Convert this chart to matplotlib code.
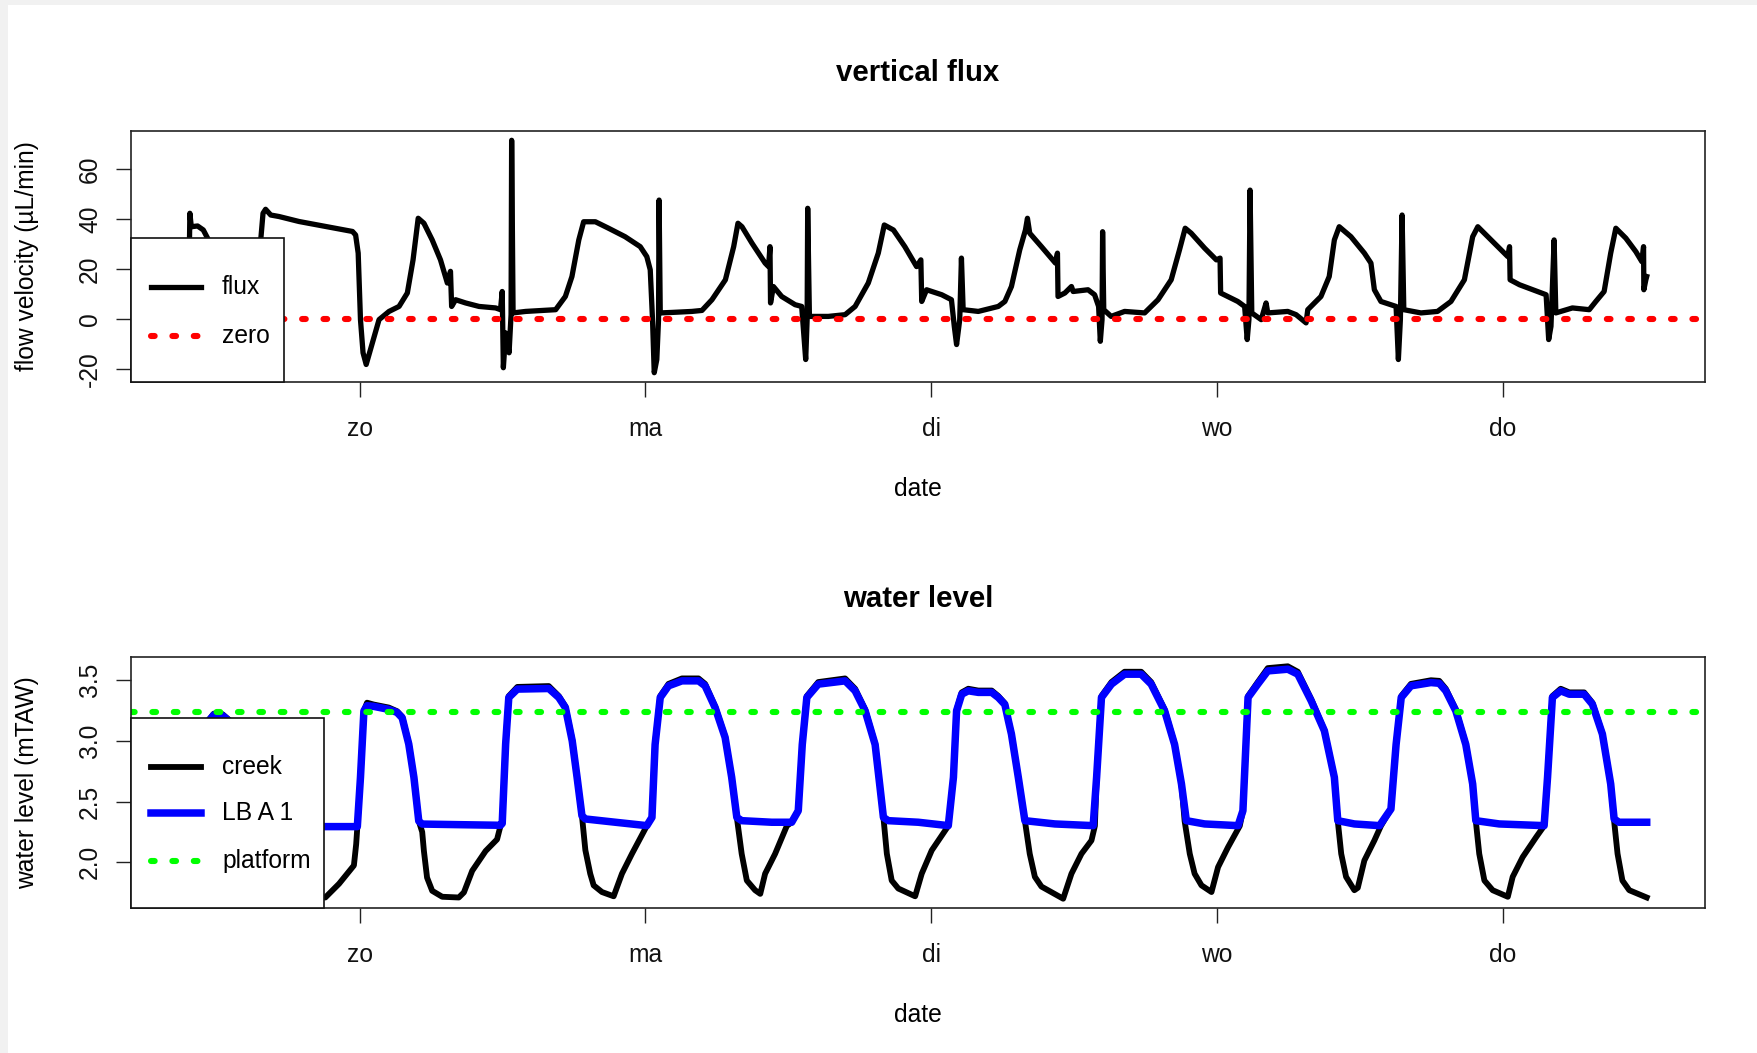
import numpy as np
import matplotlib.pyplot as plt
from matplotlib.patches import Rectangle

plt.rcParams['font.family'] = ['Liberation Sans', 'DejaVu Sans']
plt.rcParams['axes.unicode_minus'] = False

# time in days after midnight of "zo"
flux_points = [
    (-0.596, 26.0), (-0.594, 42.4), (-0.589, 37.0), (-0.567, 37.3), (-0.547, 35.7),
    (-0.532, 32.4), (-0.492, 13.0), (-0.434, 10.4), (-0.375, 15.7), (-0.346, 31.7),
    (-0.338, 42.4), (-0.329, 44.0), (-0.311, 41.7), (-0.282, 41.1), (-0.212, 39.1),
    (-0.119, 37.1), (-0.025, 35.1), (-0.014, 33.7), (-0.005, 26.4), (0.003, -0.3),
    (0.012, -13.6), (0.023, -18.3), (0.038, -12.3), (0.068, -0.3), (0.103, 3.0),
    (0.138, 5.0), (0.167, 10.4), (0.187, 23.7), (0.205, 40.4), (0.225, 38.4),
    (0.254, 31.7), (0.283, 23.7), (0.307, 14.4), (0.318, 19.1), (0.322, 5.0),
    (0.336, 7.7), (0.371, 6.4), (0.418, 5.0), (0.476, 4.4), (0.493, 3.7),
    (0.499, 11.0), (0.503, -19.6), (0.511, -5.6), (0.523, -13.6), (0.530, 1.7),
    (0.532, 71.7), (0.537, 2.4), (0.581, 3.0), (0.639, 3.4), (0.686, 3.7),
    (0.720, 9.0), (0.743, 17.0), (0.767, 31.7), (0.784, 39.0), (0.825, 39.0),
    (0.871, 36.4), (0.929, 33.0), (0.982, 29.0), (1.005, 25.0), (1.017, 19.7),
    (1.025, -0.3), (1.031, -21.6), (1.040, -16.3), (1.046, -0.3), (1.048, 47.7),
    (1.052, 2.4), (1.093, 2.6), (1.163, 3.0), (1.198, 3.4), (1.233, 7.7),
    (1.280, 15.7), (1.309, 29.0), (1.324, 38.4), (1.338, 37.0), (1.373, 30.4),
    (1.419, 22.4), (1.431, 21.0), (1.436, 29.0), (1.438, 6.4), (1.448, 13.0),
    (1.477, 9.0), (1.524, 5.7), (1.547, 5.0), (1.554, -5.6), (1.561, -16.3),
    (1.566, -0.3), (1.568, 44.4), (1.574, 1.0), (1.640, 1.0), (1.699, 1.7),
    (1.734, 5.0), (1.780, 14.4), (1.815, 26.4), (1.836, 37.7), (1.868, 35.7),
    (1.908, 29.0), (1.949, 21.0), (1.964, 23.7), (1.967, 7.0), (1.984, 11.7),
    (2.037, 9.7), (2.071, 7.7), (2.081, -3.0), (2.089, -10.3), (2.100, -0.3),
    (2.106, 24.4), (2.112, 3.7), (2.165, 3.0), (2.235, 5.0), (2.258, 7.0),
    (2.281, 13.0), (2.310, 27.7), (2.330, 35.7), (2.337, 40.4), (2.345, 34.4),
    (2.386, 29.0), (2.435, 22.4), (2.442, 26.4), (2.444, 9.0), (2.468, 10.4),
    (2.491, 13.0), (2.497, 11.0), (2.549, 11.7), (2.572, 9.7), (2.586, 5.0),
    (2.592, -9.0), (2.598, -0.3), (2.600, 35.0), (2.604, 3.7), (2.630, 1.0),
    (2.677, 3.0), (2.747, 2.4), (2.794, 7.7), (2.840, 15.7), (2.869, 27.7),
    (2.889, 36.4), (2.910, 34.4), (2.957, 28.4), (2.998, 23.7), (3.011, 24.4),
    (3.013, 10.4), (3.073, 7.0), (3.097, 5.0), (3.106, -8.3), (3.112, -0.3),
    (3.116, 51.7), (3.122, 2.4), (3.155, -0.3), (3.172, 6.4), (3.178, 2.4),
    (3.248, 3.0), (3.277, 1.7), (3.312, -1.6), (3.318, 3.7), (3.364, 9.0),
    (3.393, 17.0), (3.411, 31.7), (3.428, 37.0), (3.469, 33.0), (3.516, 26.4),
    (3.539, 22.4), (3.551, 11.7), (3.574, 7.0), (3.627, 5.0), (3.635, -16.3),
    (3.642, -0.3), (3.648, 41.7), (3.654, 3.7), (3.714, 2.4), (3.772, 3.0),
    (3.819, 7.0), (3.866, 15.7), (3.895, 33.0), (3.913, 37.0), (3.942, 33.7),
    (3.989, 28.4), (4.018, 25.0), (4.024, 29.0), (4.026, 15.7), (4.059, 13.7),
    (4.105, 11.7), (4.152, 9.7), (4.161, -8.3), (4.169, -3.0), (4.180, 31.7),
    (4.186, 2.4), (4.244, 4.4), (4.303, 3.7), (4.326, 7.0), (4.355, 11.0),
    (4.378, 26.4), (4.396, 36.4), (4.431, 32.4), (4.466, 27.0), (4.487, 23.0),
    (4.493, 29.0), (4.494, 11.7), (4.501, 15.7), (4.504, 17.0),
]

creek_points = [
    (-0.596, 2.60), (-0.55, 3.11), (-0.51, 3.225), (-0.48, 3.22), (-0.45, 3.16),
    (-0.38, 2.60), (-0.33, 2.20), (-0.28, 1.85), (-0.20, 1.72), (-0.12, 1.71),
    (-0.072, 1.823), (-0.020, 1.974), (-0.012, 2.15), (-0.008, 2.29), (0.003, 2.70),
    (0.015, 3.25), (0.026, 3.315), (0.049, 3.30), (0.102, 3.275), (0.131, 3.245),
    (0.149, 3.20), (0.172, 2.98), (0.190, 2.70), (0.207, 2.34), (0.219, 2.25),
    (0.225, 2.093), (0.236, 1.874), (0.254, 1.765), (0.289, 1.716), (0.347, 1.71),
    (0.365, 1.752), (0.394, 1.93), (0.441, 2.093), (0.481, 2.189), (0.493, 2.30),
    (0.499, 2.32), (0.511, 2.98), (0.522, 3.37), (0.552, 3.445), (0.662, 3.452),
    (0.697, 3.37), (0.720, 3.285), (0.744, 3.01), (0.761, 2.70), (0.778, 2.384),
    (0.790, 2.10), (0.807, 1.906), (0.819, 1.81), (0.848, 1.755), (0.889, 1.72),
    (0.918, 1.906), (0.953, 2.07), (1.005, 2.30), (1.023, 2.37), (1.034, 2.98),
    (1.052, 3.37), (1.081, 3.47), (1.128, 3.515), (1.186, 3.515), (1.209, 3.47),
    (1.244, 3.285), (1.279, 3.035), (1.302, 2.70), (1.320, 2.37), (1.337, 2.07),
    (1.355, 1.85), (1.384, 1.77), (1.402, 1.74), (1.419, 1.906), (1.454, 2.07),
    (1.495, 2.30), (1.512, 2.33), (1.535, 2.425), (1.549, 2.97), (1.565, 3.37),
    (1.605, 3.485), (1.699, 3.515), (1.734, 3.43), (1.769, 3.26), (1.804, 2.975),
    (1.821, 2.62), (1.833, 2.37), (1.845, 2.07), (1.862, 1.85), (1.885, 1.784),
    (1.944, 1.72), (1.967, 1.906), (2.002, 2.098), (2.060, 2.30), (2.078, 2.70),
    (2.089, 3.255), (2.107, 3.40), (2.130, 3.43), (2.165, 3.415), (2.212, 3.415),
    (2.235, 3.37), (2.258, 3.31), (2.270, 3.175), (2.281, 3.06), (2.305, 2.70),
    (2.328, 2.343), (2.345, 2.07), (2.363, 1.88), (2.386, 1.80), (2.462, 1.70),
    (2.491, 1.906), (2.526, 2.07), (2.561, 2.18), (2.573, 2.30), (2.579, 2.70),
    (2.596, 3.37), (2.631, 3.485), (2.677, 3.57), (2.735, 3.57), (2.770, 3.485),
    (2.817, 3.26), (2.852, 2.975), (2.876, 2.645), (2.887, 2.34), (2.905, 2.07),
    (2.922, 1.906), (2.946, 1.81), (2.981, 1.755), (3.004, 1.96), (3.039, 2.125),
    (3.080, 2.30), (3.091, 2.425), (3.109, 3.37), (3.143, 3.485), (3.178, 3.60),
    (3.248, 3.615), (3.283, 3.57), (3.330, 3.345), (3.376, 3.09), (3.411, 2.70),
    (3.423, 2.34), (3.435, 2.07), (3.452, 1.88), (3.481, 1.77), (3.493, 1.79),
    (3.516, 2.015), (3.551, 2.18), (3.574, 2.30), (3.609, 2.44), (3.627, 2.975),
    (3.645, 3.37), (3.679, 3.47), (3.749, 3.50), (3.778, 3.495), (3.801, 3.43),
    (3.836, 3.26), (3.871, 2.975), (3.895, 2.645), (3.906, 2.34), (3.918, 2.07),
    (3.936, 1.85), (3.965, 1.77), (4.018, 1.716), (4.035, 1.88), (4.070, 2.043),
    (4.117, 2.207), (4.145, 2.30), (4.157, 2.70), (4.174, 3.37), (4.203, 3.43),
    (4.233, 3.40), (4.285, 3.40), (4.314, 3.315), (4.349, 3.06), (4.378, 2.645),
    (4.390, 2.34), (4.402, 2.07), (4.419, 1.85), (4.443, 1.77), (4.504, 1.71),
]

lba1_points = [
    (-0.596, 2.60), (-0.55, 3.10), (-0.51, 3.215), (-0.48, 3.21), (-0.45, 3.15),
    (-0.38, 2.60), (-0.33, 2.31), (-0.25, 2.296), (-0.12, 2.294), (-0.008, 2.294),
    (0.003, 2.70), (0.015, 3.247), (0.026, 3.29), (0.049, 3.285), (0.102, 3.26),
    (0.131, 3.235), (0.149, 3.19), (0.172, 2.974), (0.190, 2.70), (0.207, 2.34),
    (0.219, 2.315), (0.35, 2.31), (0.493, 2.305), (0.499, 2.32), (0.511, 2.974),
    (0.522, 3.358), (0.552, 3.427), (0.662, 3.432), (0.697, 3.358), (0.720, 3.275),
    (0.744, 3.0), (0.761, 2.70), (0.778, 2.384), (0.790, 2.357), (0.895, 2.33),
    (1.005, 2.302), (1.023, 2.37), (1.034, 2.97), (1.052, 3.358), (1.081, 3.454),
    (1.128, 3.495), (1.186, 3.495), (1.209, 3.454), (1.244, 3.275), (1.279, 3.029),
    (1.302, 2.70), (1.320, 2.37), (1.337, 2.343), (1.442, 2.33), (1.512, 2.33),
    (1.535, 2.425), (1.549, 2.97), (1.565, 3.358), (1.605, 3.468), (1.699, 3.495),
    (1.734, 3.413), (1.769, 3.248), (1.804, 2.97), (1.821, 2.62), (1.833, 2.37),
    (1.850, 2.343), (1.955, 2.33), (2.060, 2.302), (2.078, 2.70), (2.089, 3.248),
    (2.107, 3.385), (2.130, 3.413), (2.165, 3.40), (2.212, 3.40), (2.235, 3.358),
    (2.258, 3.30), (2.270, 3.17), (2.281, 3.056), (2.305, 2.70), (2.328, 2.343),
    (2.433, 2.316), (2.567, 2.302), (2.579, 2.70), (2.596, 3.358), (2.631, 3.468),
    (2.677, 3.55), (2.735, 3.55), (2.770, 3.468), (2.817, 3.248), (2.852, 2.97),
    (2.876, 2.645), (2.893, 2.343), (2.957, 2.316), (3.074, 2.302), (3.091, 2.425),
    (3.109, 3.358), (3.143, 3.468), (3.178, 3.577), (3.248, 3.591), (3.283, 3.55),
    (3.330, 3.33), (3.376, 3.084), (3.411, 2.70), (3.423, 2.343), (3.481, 2.316),
    (3.569, 2.302), (3.609, 2.439), (3.627, 2.97), (3.645, 3.358), (3.679, 3.454),
    (3.749, 3.481), (3.778, 3.475), (3.801, 3.413), (3.836, 3.248), (3.871, 2.97),
    (3.895, 2.645), (3.906, 2.343), (3.988, 2.316), (4.145, 2.302), (4.157, 2.70),
    (4.174, 3.358), (4.203, 3.413), (4.233, 3.385), (4.285, 3.385), (4.314, 3.302),
    (4.349, 3.056), (4.378, 2.645), (4.390, 2.357), (4.407, 2.33), (4.504, 2.33),
]

zero_level = 0.0
platform_level = 3.24
day_ticks = [0, 1, 2, 3, 4]
day_labels = ['zo', 'ma', 'di', 'wo', 'do']

FS = 17.7
DOT = (0, (0.6, 2.9))


def r_limits(values):
    # R-style 4% axis extension
    lo, hi = np.min(values), np.max(values)
    pad = 0.04 * (hi - lo)
    return lo - pad, hi + pad


def style_axes(ax, title, ylabel, yticks, yticklabels):
    ax.set_xticks(day_ticks)
    ax.set_xticklabels(day_labels)
    ax.set_yticks(yticks)
    ax.set_yticklabels(yticklabels, rotation=90, va='center')
    ax.tick_params(direction='out', length=10.8, width=1.0, labelsize=FS,
                   color='#222222', labelcolor='#111111')
    ax.tick_params(axis='x', pad=14.5)
    ax.tick_params(axis='y', pad=10)
    for sp in ax.spines.values():
        sp.set_linewidth(1.2)
        sp.set_color('#222222')
    ax.text(0.5, 1 + 58 / 251, title, transform=ax.transAxes, ha='center',
            va='center', fontsize=21.2, fontweight='bold')
    ax.set_xlabel('date', fontsize=FS, va='center')
    ax.xaxis.set_label_coords(0.5, -107.5 / 251)
    ax.set_ylabel(ylabel, fontsize=FS, va='center')
    ax.yaxis.set_label_coords(-104 / 1574, 0.5)


def draw_legend(ax, width, height, entries):
    ax.add_patch(Rectangle((0, 0), width, height, transform=ax.transAxes,
                           facecolor='white', edgecolor='#111111', lw=1.2,
                           zorder=10, clip_on=False))
    for label, y, kw in entries:
        ax.plot([20 / 1574, 70 / 1574], [y, y], transform=ax.transAxes,
                zorder=11, clip_on=False, **kw)
        ax.text(91 / 1574, y, label, transform=ax.transAxes, fontsize=FS,
                va='center', ha='left', zorder=12)


flux_days, flux_vals = np.array(flux_points).T
creek_days, creek_vals = np.array(creek_points).T
lba1_days, lba1_vals = np.array(lba1_points).T

fig = plt.figure(figsize=(17.57, 10.53), dpi=100)
fig.patches.append(Rectangle((0, 0), 8 / 1757, 1, transform=fig.transFigure,
                             facecolor='#f1f1f1', edgecolor='none'))
fig.patches.append(Rectangle((0, 1 - 5 / 1053), 1, 5 / 1053, transform=fig.transFigure,
                             facecolor='#f1f1f1', edgecolor='none'))

ax1 = fig.add_axes([131 / 1757, 1 - 382 / 1053, 1574 / 1757, 251 / 1053])
ax2 = fig.add_axes([131 / 1757, 1 - 908 / 1053, 1574 / 1757, 251 / 1053])

# vertical flux
flux_style = dict(color='black', lw=3.8, solid_joinstyle='round')
zero_style = dict(color='red', lw=4.4, linestyle=DOT, dash_capstyle='round')
ax1.plot(flux_days, flux_vals, **flux_style)
ax1.axhline(zero_level, **zero_style)
ax1.set_xlim(*r_limits(flux_days))
ax1.set_ylim(*r_limits(flux_vals))
style_axes(ax1, 'vertical flux', 'flow velocity (\u00b5L/min)',
           [-20, 0, 20, 40, 60], ['-20', '0', '20', '40', '60'])
draw_legend(ax1, 153 / 1574, 143.7 / 251,
            [('flux', 0.377, flux_style), ('zero', 0.184, zero_style)])

# water level
creek_style = dict(color='black', lw=4.2, solid_joinstyle='round')
lba1_style = dict(color='#0000ff', lw=5.4, solid_joinstyle='round')
plat_style = dict(color='#00ff00', lw=4.4, linestyle=DOT, dash_capstyle='round')
ax2.plot(creek_days, creek_vals, **creek_style)
ax2.plot(lba1_days, lba1_vals, **lba1_style)
ax2.axhline(platform_level, **plat_style)
ax2.set_xlim(*r_limits(creek_days))
ax2.set_ylim(*r_limits(np.concatenate([creek_vals, lba1_vals])))
style_axes(ax2, 'water level', 'water level (mTAW)',
           [2.0, 2.5, 3.0, 3.5], ['2.0', '2.5', '3.0', '3.5'])
draw_legend(ax2, 193 / 1574, 189.7 / 251,
            [('creek', 0.563, creek_style), ('LB A 1', 0.377, lba1_style),
             ('platform', 0.187, plat_style)])

fig.savefig('out.png', dpi=100)
